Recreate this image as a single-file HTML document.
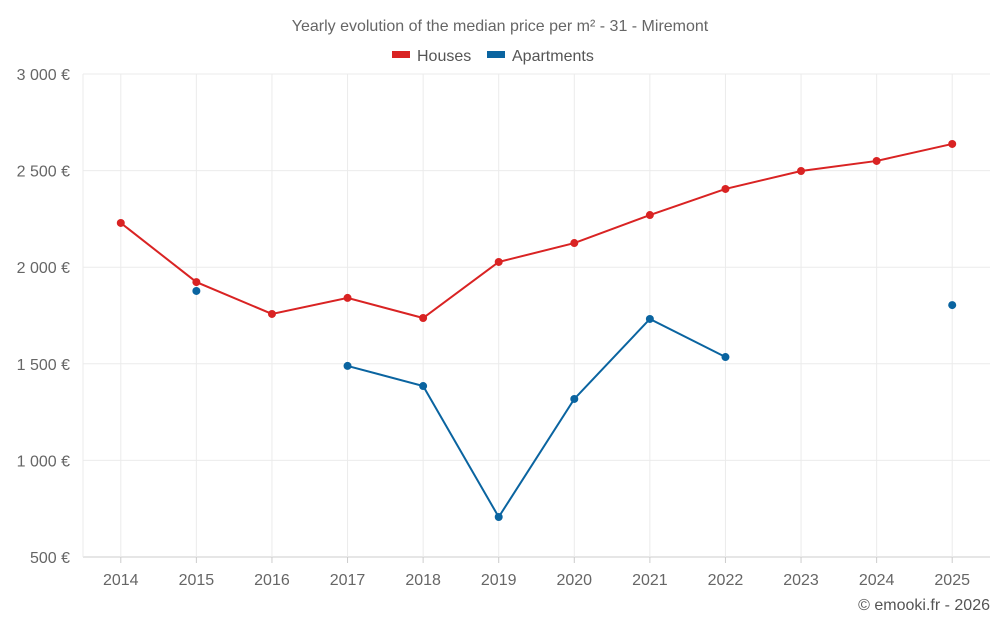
<!DOCTYPE html>
<html><head><meta charset="utf-8"><style>
body{margin:0;background:#fff;font-family:"Liberation Sans",sans-serif}
</style></head><body>
<svg id="c" width="1000" height="625" xmlns="http://www.w3.org/2000/svg">
<text x="500" y="31" text-anchor="middle" font-size="16" fill="#666">Yearly evolution of the median price per m² - 31 - Miremont</text>
<g><rect x="392" y="51" width="18" height="7" fill="#d92323"/><text x="417" y="61" font-size="16" fill="#555">Houses</text></g>
<g><rect x="487" y="51" width="18" height="7" fill="#0a64a0"/><text x="512" y="61" font-size="16" fill="#555">Apartments</text></g>
<g id="grid"></g><g id="axes"></g><g id="series"></g>
<text x="990" y="610" text-anchor="end" font-size="16" fill="#555">© emooki.fr - 2026</text>
</svg>
<script>
const years=[2014,2015,2016,2017,2018,2019,2020,2021,2022,2023,2024,2025];
const houses=[2229,1923,1758,1841,1737,2027,2125,2270,2405,2498,2550,2638];
const apartments=[null,1877,null,1489,1385,707,1318,1732,1535,null,null,1804];
const yTicks=[500,1000,1500,2000,2500,3000];
const yTickLabels=["500 €","1 000 €","1 500 €","2 000 €","2 500 €","3 000 €"];
const NS="http://www.w3.org/2000/svg";
const L=83,R=990,T=74,B=557;
const bw=(R-L)/years.length;
const x=i=>L+bw*(i+0.5);
const y=v=>B-(v-500)/2500*(B-T);
function mk(tag,attrs,parent){const e=document.createElementNS(NS,tag);for(const k in attrs)e.setAttribute(k,attrs[k]);parent.appendChild(e);return e;}
const grid=document.getElementById('grid'),axes=document.getElementById('axes'),ser=document.getElementById('series');
yTicks.forEach((t,i)=>{
 const l=mk('line',{x1:L,x2:R,y1:y(t),y2:y(t),stroke:i==0?'#ccc':'#ebebeb'},grid);
 
 
 const tx=mk('text',{x:70,y:y(t)+6,'text-anchor':'end','font-size':16,fill:'#666'},axes);
 tx.textContent=yTickLabels[i];
 
 
});
const le=mk('line',{x1:L,x2:L,y1:T,y2:B,stroke:'#ebebeb'},grid);


years.forEach((yr,i)=>{
 const g=mk('line',{x1:x(i),x2:x(i),y1:T,y2:B,stroke:'#ebebeb'},grid);
 
 
 const tk=mk('line',{x1:x(i),x2:x(i),y1:B,y2:B+6,stroke:'#ccc'},axes);
 
 
 const tx=mk('text',{x:x(i),y:585,'text-anchor':'middle','font-size':16,fill:'#666'},axes);
 tx.textContent=yr;
 
 
});
function draw(vals,color,name){
 let d='',pen=false;
 vals.forEach((v,i)=>{if(v==null){pen=false;return;}d+=(pen?'L':'M')+x(i)+' '+y(v)+' ';pen=true;});
 const p=mk('path',{d:d,fill:'none',stroke:color,'stroke-width':2},ser);
 
 
 vals.forEach((v,i)=>{if(v==null)return;
  const c=mk('circle',{cx:x(i),cy:y(v),r:4,fill:color},ser);
  
  
 });
}
draw(houses,'#d92323','houses');
draw(apartments,'#0a64a0','apartments');
</script>
</body></html>
